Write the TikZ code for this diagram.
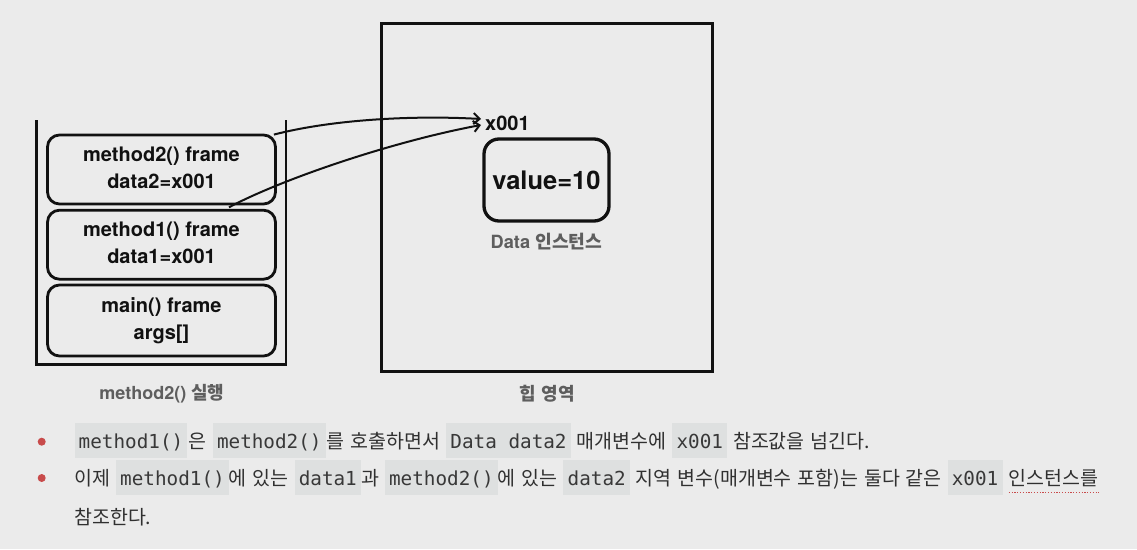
\documentclass[tikz,border=0pt]{standalone}
\usepackage{fontspec}
\setmainfont{TeX Gyre Heros}
\setmonofont{DejaVu Sans Mono}
\newfontfamily\kr[WordSpace=1.35]{Noto Sans CJK KR}
\usetikzlibrary{arrows.meta}
\definecolor{bgc}{HTML}{EBEBEB}
\definecolor{codebg}{HTML}{DEE0E0}
\definecolor{codetxt}{HTML}{383838}
\definecolor{bodytxt}{HTML}{303030}
\definecolor{lblgray}{HTML}{5E5E5E}
\definecolor{bulletred}{HTML}{C84B4B}
\definecolor{ink}{HTML}{111111}
\newcommand\cb[1]{{\setlength\fboxsep{0pt}\colorbox{codebg}{\rule[-10.3pt]{0pt}{35pt}\hspace{4.2pt}{\ttfamily\fontsize{19.3}{22}\selectfont\color{codetxt}#1}\hspace{4.2pt}}}}
\begin{document}
\begin{tikzpicture}[x=1pt,y=-1pt,
  frame/.style={draw=ink, line width=2.8pt, rounded corners=12pt, minimum width=228pt, minimum height=69pt, align=center, inner sep=0pt, text=ink, font=\bfseries\fontsize{20}{26.5}\selectfont},
  wall/.style={draw=ink, line width=2.8pt},
  lbl/.style={text=lblgray, inner sep=0pt, font=\bfseries\fontsize{18}{20}\selectfont},
  ref/.style={draw=ink, line width=2pt, -{Straight Barb[length=6pt,width=11pt,line width=2pt]}},
  body/.style={anchor=base west, inner sep=0pt, text=bodytxt, font=\kr\fontsize{19.5}{22}\selectfont},
  bullet/.style={circle, fill=bulletred, inner sep=0pt, minimum size=8pt}
]
\fill[bgc] (0,0) rectangle (1137,549);
\useasboundingbox (0,0) rectangle (1137,549);

% stack
\draw[wall] (36.7,120) -- (36.7,364.3) -- (286,364.3) -- (286,120);
\node[frame] (m2) at (161.5,169.5) {method2() frame\\data2=x001\rule[-4pt]{0pt}{1pt}};
\node[frame] (m1) at (161.5,244.7) {method1() frame\\data1=x001\rule[-4pt]{0pt}{1pt}};
\node[frame, minimum height=71pt] (mn) at (161.5,320.5) {main() frame\\args[]\rule[-4pt]{0pt}{1pt}};
\node[lbl] (stacklbl) at (162,394) {method2() {\kr 실행}};

% heap
\node[draw=ink, line width=2.8pt, minimum width=330.8pt, minimum height=348pt, inner sep=0pt] (heap) at (547,197.5) {};
\node[draw=ink, line width=3.3pt, rounded corners=15pt, minimum width=125pt, minimum height=82pt, inner sep=0pt, text=ink, font=\bfseries\fontsize{25.5}{30}\selectfont] (val) at (546.5,180) {value=10};
\node[anchor=base west, inner sep=0pt, text=ink, font=\bfseries\fontsize{20}{24}\selectfont] (addr) at (485,130.7) {x001};
\node[lbl, font=\bfseries\fontsize{18.2}{20}\selectfont] (datalbl) at (546.5,242) {Data {\kr 인스턴스}};
\node[lbl] (heaplbl) at (547,394) {{\kr 힙 영역}};

% references
\coordinate (s1) at ([xshift=-3pt,yshift=-1pt]m2.north east);
\coordinate (s2) at ([xshift=67.5pt,yshift=1.5pt]m1.north);
\coordinate (e1) at ([xshift=-4pt,yshift=11.7pt]addr.base west);
\coordinate (e2) at ([xshift=-4pt,yshift=5.7pt]addr.base west);
\draw[ref] (s1) .. controls (330,120) and (410,115) .. (e1);
\draw[ref] (s2) .. controls (280,180) and (390,142) .. (e2);

% bullet text
\node[bullet] (b1) at (41.7,441.7) {};
\node[bullet] (b2) at (41.7,478) {};
\node[body] (l1) at (74.3,448) {\cb{method1()}\hspace{1.5pt}은 \cb{method2()}\hspace{1pt}를 호출하면서 \cb{Data data2} 매개변수에 \cb{x001} 참조값을 넘긴다.};
\node[body] (l2a) at (74,485) {이제 \cb{method1()}에 있는 \cb{data1}과 \cb{method2()}에 있는 \cb{data2} 지역 변수(매개변수 포함)는 둘다 같은 \cb{x001}};
\node[body] (l2b) at ([xshift=6pt]l2a.base east) {인스턴스를};
\node[body] (l3) at (74,524) {참조한다.};
\draw[bulletred, line width=1.3pt, dash pattern=on 1.2pt off 1.6pt] ([yshift=-7.7pt]l2b.base west) -- ([yshift=-7.7pt]l2b.base east);
\end{tikzpicture}
\end{document}
